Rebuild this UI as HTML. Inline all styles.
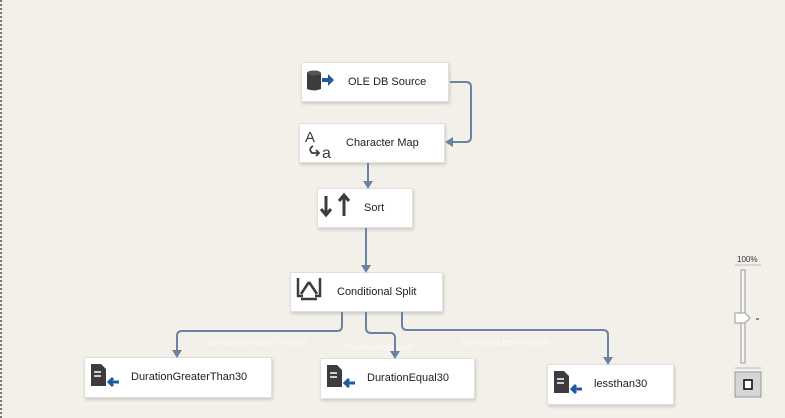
<!DOCTYPE html>
<html><head><meta charset="utf-8"><style>
html,body{margin:0;padding:0}
body{width:785px;height:418px;background:#f3f0e9;position:relative;overflow:hidden;font-family:"Liberation Sans",sans-serif}
.n{position:absolute;background:#fff;border:1px solid #e2e0dc;box-shadow:1px 2px 3px rgba(0,0,0,0.15);font-size:11px;color:#1e1e1e;box-sizing:border-box}
.n span{position:absolute;top:13px}
.lbl{position:absolute;font-size:9.5px;color:#fbfaf6}
</style></head><body>
<div style="position:absolute;left:0;top:0;width:2px;height:418px;background:repeating-linear-gradient(#777 0 2px,transparent 2px 4px)"></div>
<div class="n" style="left:301px;top:62px;width:148px;height:40px"><span style="left:46px">OLE DB Source</span></div>
<div class="n" style="left:299px;top:123px;width:146px;height:40px"><span style="left:46px">Character Map</span></div>
<div class="n" style="left:317px;top:188px;width:96px;height:40px"><span style="left:46px">Sort</span></div>
<div class="n" style="left:290px;top:272px;width:153px;height:40px"><span style="left:46px">Conditional Split</span></div>
<div class="n" style="left:84px;top:357px;width:188px;height:41px"><span style="left:46px">DurationGreaterThan30</span></div>
<div class="n" style="left:320px;top:358px;width:155px;height:41px"><span style="left:46px">DurationEqual30</span></div>
<div class="n" style="left:547px;top:364px;width:127px;height:41px"><span style="left:46px">lessthan30</span></div>
<div class="lbl" style="left:207px;top:337px">DurationGreaterThan30</div>
<div class="lbl" style="left:344px;top:342px">DurationEqual30</div>
<div class="lbl" style="left:461px;top:337px">DurationLessThan30</div>
<svg width="785" height="418" style="position:absolute;left:0;top:0">
<g fill="none" stroke="#6c82a3" stroke-width="2">
<path d="M450 82 H466 Q471 82 471 87 V137 Q471 142 466 142 H450"/>
<path d="M368 163 V183"/>
<path d="M366 228 V267"/>
<path d="M342 312 V326 Q342 331 337 331 H182 Q177 331 177 336 V352"/>
<path d="M366 312 V328 Q366 333 371 333 H390 Q395 333 395 338 V353"/>
<path d="M402 312 V325 Q402 330 407 330 H603 Q608 330 608 335 V359"/>
</g>
<g fill="#6c82a3">
<path d="M445 142 L453 137 L453 147Z"/>
<path d="M368 189 L363 181 L373 181Z"/>
<path d="M366 273 L361 265 L371 265Z"/>
<path d="M177 358 L172 350 L182 350Z"/>
<path d="M395 359 L390 351 L400 351Z"/>
<path d="M608 365 L603 357 L613 357Z"/>
</g>
<g fill="#3c3c3c">
<path d="M307 73 h14 v16 q-7 3 -14 0z"/><ellipse cx="314" cy="73" rx="7" ry="2.5" fill="#555"/>
<path d="M322 78 h6 v-4 l6 6 -6 6 v-4 h-6z" fill="#1e5a9c"/>
<text x="305" y="142" font-size="15" font-family="Liberation Sans">A</text>
<text x="322" y="158" font-size="16" font-family="Liberation Sans">a</text>
<path d="M313 146 q-5 3 -1 7 h7 m-3 -3 l3 3 -3 3" fill="none" stroke="#3c3c3c" stroke-width="1.8"/>
<path d="M326 196 v18 M321 209 l5 6 5 -6 M344 196 v20 M339 201 l5 -6 5 6" stroke="#3c3c3c" stroke-width="3" fill="none"/>
<path d="M298 278 v18 h5 M320 278 v18 h-5 M301 299 h16 M309 282 l-8 12 M309 282 l8 12" stroke="#3c3c3c" stroke-width="2.5" fill="none"/>
</g>
<g>
<path d="M91 364 h10 l5 5 v17 h-15z" fill="#3c3c3c"/><path d="M94 372 h7 M94 376 h7" stroke="#fff" stroke-width="1.5"/><path d="M119 382 h-10 m4 -4 l-4 4 4 4" stroke="#1e5a9c" stroke-width="3" fill="none"/>
<path d="M327 365 h10 l5 5 v17 h-15z" fill="#3c3c3c"/><path d="M330 373 h7 M330 377 h7" stroke="#fff" stroke-width="1.5"/><path d="M355 383 h-10 m4 -4 l-4 4 4 4" stroke="#1e5a9c" stroke-width="3" fill="none"/>
<path d="M554 371 h10 l5 5 v17 h-15z" fill="#3c3c3c"/><path d="M557 379 h7 M557 383 h7" stroke="#fff" stroke-width="1.5"/><path d="M582 389 h-10 m4 -4 l-4 4 4 4" stroke="#1e5a9c" stroke-width="3" fill="none"/>
</g>
<text x="737" y="262" font-size="8" fill="#333" font-family="Liberation Sans">100%</text>
<path d="M735 265 h26" stroke="#bbb"/>
<rect x="741" y="270" width="4" height="93" fill="#f6f6f6" stroke="#999"/>
<path d="M735 313 h10 l5 5 -5 5 h-10z" fill="#fff" stroke="#999"/>
<rect x="756" y="318" width="3" height="2" fill="#888"/>
<path d="M735 368 h26" stroke="#bbb"/>
<rect x="735" y="372" width="26" height="25" fill="#d6d6d6" stroke="#999"/>
<rect x="744" y="380" width="8" height="9" fill="#fff" stroke="#000" stroke-width="1.5"/>
</svg>
</body></html>
